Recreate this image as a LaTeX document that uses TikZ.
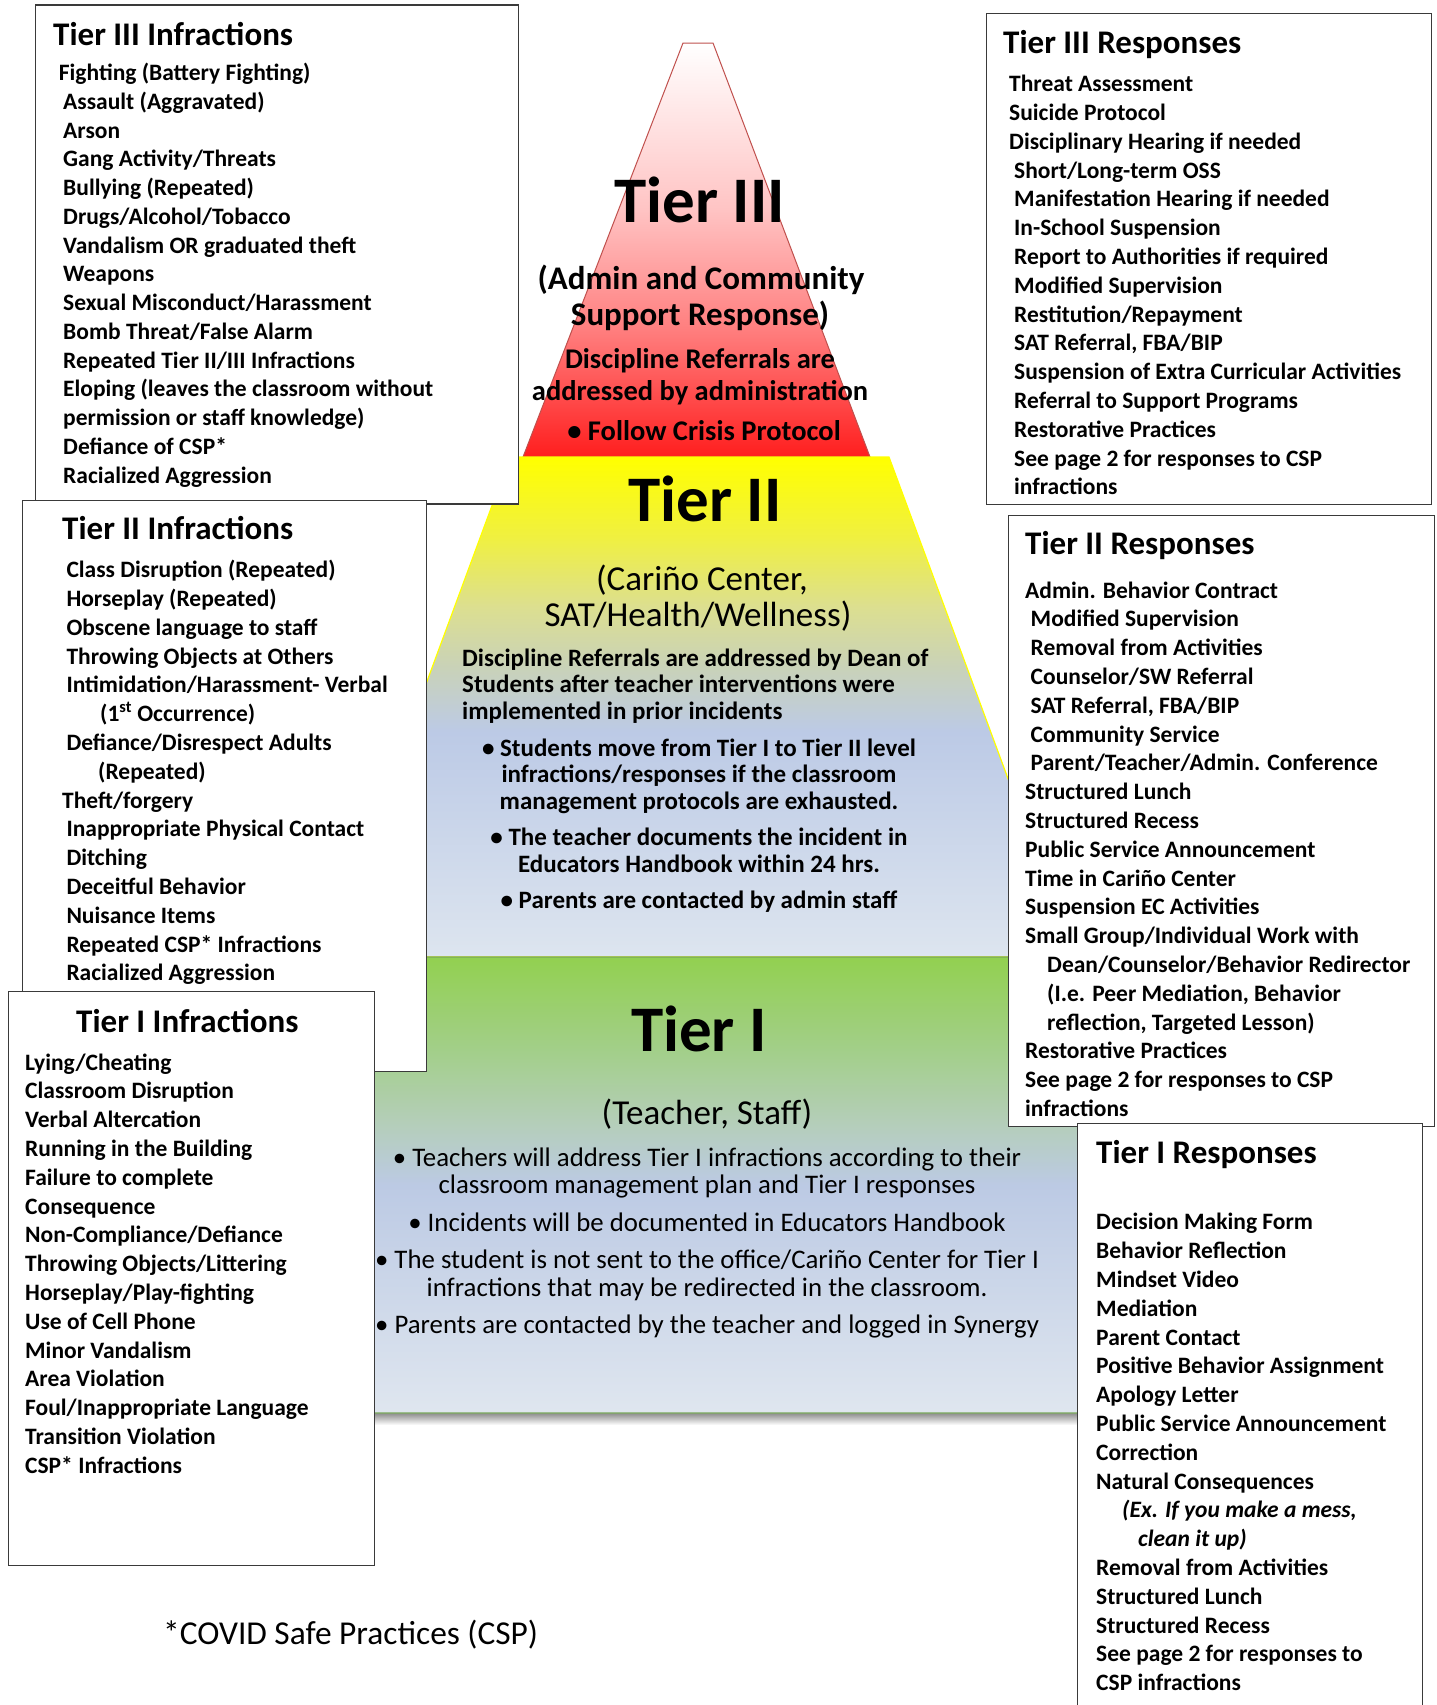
\documentclass[tikz,border=0pt]{standalone}
\usepackage{fontspec}
\setmainfont{Carlito}
\definecolor{boxline}{HTML}{3A3A3A}
\definecolor{tA}{HTML}{FFFFFF}
\definecolor{tB}{HTML}{FFC4C4}
\definecolor{tC}{HTML}{FF7C7C}
\definecolor{tD}{HTML}{FF1E1E}
\definecolor{tLine}{HTML}{C0504D}
\definecolor{uA}{HTML}{FFFF00}
\definecolor{uB}{HTML}{F0F040}
\definecolor{uC}{HTML}{DCDF90}
\definecolor{uD}{HTML}{C9D2B8}
\definecolor{uE}{HTML}{BCCAE6}
\definecolor{uF}{HTML}{DDE5EF}
\definecolor{vA}{HTML}{92D050}
\definecolor{vB}{HTML}{A2CF88}
\definecolor{vC}{HTML}{B4CEB8}
\definecolor{vD}{HTML}{BCCAE4}
\definecolor{vE}{HTML}{DFE6EF}
\definecolor{vLine}{HTML}{79A85A}
\pgfdeclareverticalshading{tierthree}{100bp}{color(0bp)=(tD); color(25bp)=(tD); color(40bp)=(tC); color(55bp)=(tB); color(75bp)=(tA); color(100bp)=(tA)}
\pgfdeclareverticalshading{tiertwo}{100bp}{color(0bp)=(uF); color(25bp)=(uF); color(47.5bp)=(uE); color(54bp)=(uD); color(60bp)=(uC); color(67bp)=(uB); color(75bp)=(uA); color(100bp)=(uA)}
\pgfdeclareverticalshading{tierone}{100bp}{color(0bp)=(vE); color(25bp)=(vE); color(50bp)=(vD); color(57bp)=(vC); color(65bp)=(vB); color(75bp)=(vA); color(100bp)=(vA)}
\begin{document}
\begin{tikzpicture}[x=1pt,y=-1pt,
  infobox/.style={draw=boxline, line width=1.4pt, fill=white, inner sep=0pt, anchor=north west},
  item/.style={font=\fontsize{23.5}{28}\selectfont\bfseries, anchor=base west, inner sep=0pt},
  boxtitle/.style={font=\fontsize{33}{38}\selectfont\bfseries, anchor=base west, inner sep=0pt},
  bigtier/.style={font=\fontsize{65}{70}\selectfont\bfseries, anchor=base, inner sep=0pt},
  subbold/.style={font=\fontsize{33}{38}\selectfont\bfseries, anchor=base, inner sep=0pt},
  subreg/.style={font=\fontsize{35}{40}\selectfont, anchor=base, inner sep=0pt},
  tthreebody/.style={font=\fontsize{28.5}{32}\selectfont\bfseries, anchor=base, inner sep=0pt},
  ttwobody/.style={font=\fontsize{25}{28}\selectfont\bfseries, anchor=base, inner sep=0pt},
  tonebody/.style={font=\fontsize{26.8}{30}\selectfont, anchor=base, inner sep=0pt}]
\useasboundingbox (0,0) rectangle (1436,1705);
\clip (0,0) rectangle (1436,1705);
\fill[white] (0,0) rectangle (1436,1705);

% ---- pyramid ----
\shadedraw[shading=tierthree, draw=tLine, line width=1pt]
  (683,43) -- (713,43) -- (870,457) -- (523,457) -- cycle;
\shadedraw[shading=tiertwo, draw=uA, line width=1.2pt]
  (510,457) -- (889,457) -- (1074,957) -- (325,957) -- cycle;
\shade[top color=black!45, bottom color=white] (150,1413) rectangle (1245,1425);
\shadedraw[shading=tierone, draw=vLine, line width=1.2pt]
  (320,957) -- (1075,957) -- (1245,1413) -- (150,1413) -- cycle;

% ---- boxes ----
\node[infobox, minimum width=483pt, minimum height=499pt] (box1) at (35,4.3) {};
\node[infobox, minimum width=445pt, minimum height=491pt] (box2) at (986,13) {};
\node[infobox, minimum width=404pt, minimum height=571pt] (box3) at (22,500) {};
\node[infobox, minimum width=426pt, minimum height=611pt] (box4) at (1008,515) {};
\node[infobox, minimum width=366pt, minimum height=574pt] (box5) at (8,991) {};
\node[infobox, minimum width=345pt, minimum height=620pt] (box6) at (1077,1123) {};

% ---- box texts ----
\node[boxtitle] (h1) at (53,45.1) {Tier III Infractions};
\foreach \xx/\t [count=\i from 0] in {58.7/{Fighting (Battery Fighting)}, 63/{Assault (Aggravated)}, 63/Arson, 63/{Gang Activity/Threats}, 63/{Bullying (Repeated)}, 63/{Drugs/Alcohol/Tobacco}, 63/{Vandalism OR graduated theft}, 63/Weapons, 63/{Sexual Misconduct/Harassment}, 63/{Bomb Threat/False Alarm}, 63/{Repeated Tier II/III Infractions}, 63/{Eloping (leaves the classroom without}, 63/{permission or staff knowledge)}, 63/{Defiance of CSP*}, 63/{Racialized Aggression}}
  {\node[item] (ia\i) at (\xx, 80.8+28.73*\i) {\t};}

\node[boxtitle] (h2) at (1003,53.8) {Tier III Responses};
\foreach \xx/\t [count=\i from 0] in {1009/{Threat Assessment}, 1009/{Suicide Protocol}, 1009/{Disciplinary Hearing if needed}, 1014/{Short/Long-term OSS}, 1014/{Manifestation Hearing if needed}, 1014/{In-School Suspension}, 1014/{Report to Authorities if required}, 1014/{Modified Supervision}, 1014/{Restitution/Repayment}, 1014/{SAT Referral, FBA/BIP}, 1014/{Suspension of Extra Curricular Activities}, 1014/{Referral to Support Programs}, 1014/{Restorative Practices}, 1014/{See page 2 for responses to CSP}, 1014/infractions}
  {\node[item] (ib\i) at (\xx, 91.7+28.8*\i) {\t};}

\node[boxtitle] (h3) at (62,539.7) {Tier II Infractions};
\foreach \xx/\t [count=\i from 0] in {66.3/{Class Disruption (Repeated)}, 66.3/{Horseplay (Repeated)}, 66.3/{Obscene language to staff}, 66.3/{Throwing Objects at Others}, 66.3/{Intimidation/Harassment- Verbal}, 100/{(1\textsuperscript{st} Occurrence)}, 66.3/{Defiance/Disrespect Adults}, 98/{(Repeated)}, 62/{Theft/forgery}, 66.3/{Inappropriate Physical Contact}, 66.3/Ditching, 66.3/{Deceitful Behavior}, 66.3/{Nuisance Items}, 66.3/{Repeated CSP* Infractions}, 66.3/{Racialized Aggression}}
  {\node[item] (ic\i) at (\xx, 577.6+28.8*\i) {\t};}

\node[boxtitle] (h4) at (1025,554.9) {Tier II Responses};
\foreach \xx/\t [count=\i from 0] in {1025/{Admin. Behavior Contract}, 1030.5/{Modified Supervision}, 1030.5/{Removal from Activities}, 1030.5/{Counselor/SW Referral}, 1030.5/{SAT Referral, FBA/BIP}, 1030.5/{Community Service}, 1030.5/{Parent/Teacher/Admin. Conference}, 1025/{Structured Lunch}, 1025/{Structured Recess}, 1025/{Public Service Announcement}, 1025/{Time in Cariño Center}, 1025/{Suspension EC Activities}, 1025/{Small Group/Individual Work with}, 1047/{Dean/Counselor/Behavior Redirector}, 1047/{(I.e. Peer Mediation, Behavior}, 1047/{reflection, Targeted Lesson)}, 1025/{Restorative Practices}, 1025/{See page 2 for responses to CSP}, 1025/infractions}
  {\node[item] (id\i) at (\xx, 598+28.8*\i) {\t};}

\node[boxtitle] (h5) at (76,1032) {Tier I Infractions};
\foreach \t [count=\i from 0] in {{Lying/Cheating}, {Classroom Disruption}, {Verbal Altercation}, {Running in the Building}, {Failure to complete}, Consequence, {Non-Compliance/Defiance}, {Throwing Objects/Littering}, {Horseplay/Play-fighting}, {Use of Cell Phone}, {Minor Vandalism}, {Area Violation}, {Foul/Inappropriate Language}, {Transition Violation}, {CSP* Infractions}}
  {\node[item] (ie\i) at (25, 1070+28.8*\i) {\t};}

\node[boxtitle] (h6) at (1096,1163.7) {Tier I Responses};
\foreach \xx/\t [count=\i from 0] in {1096/{Decision Making Form}, 1096/{Behavior Reflection}, 1096/{Mindset Video}, 1096/Mediation, 1096/{Parent Contact}, 1096/{Positive Behavior Assignment}, 1096/{Apology Letter}, 1096/{Public Service Announcement}, 1096/Correction, 1096/{Natural Consequences}, 1122/{\itshape (Ex. If you make a mess,}, 1138/{\itshape clean it up)}, 1096/{Removal from Activities}, 1096/{Structured Lunch}, 1096/{Structured Recess}, 1096/{See page 2 for responses to}, 1096/{CSP infractions}}
  {\node[item] (ig\i) at (\xx, 1229.8+28.8*\i) {\t};}

% ---- pyramid texts ----
\node[bigtier] (p3) at (699.5,222) {Tier III};
\node[subbold] (p3a) at (701,289.5) {(Admin and Community};
\node[subbold] (p3b) at (700,325.5) {Support Response)};
\node[tthreebody] (p3c) at (700,368) {Discipline Referrals are};
\node[tthreebody] (p3d) at (700,400.5) {addressed by administration};
\node[tthreebody] (p3e) at (704,440.5) {• Follow Crisis Protocol};

\node[bigtier] (p2) at (705,521) {Tier II};
\node[subreg] (p2a) at (702,590) {(Cariño Center,};
\node[subreg] (p2b) at (698,626) {SAT/Health/Wellness)};
\foreach \yy/\t [count=\i] in {666/{Discipline Referrals are addressed by Dean of}, 692/{Students after teacher interventions were}, 719/{implemented in prior incidents}}
  {\node[ttwobody, anchor=base west] (pq\i) at (462,\yy) {\t};}
\foreach \yy/\t [count=\i] in {756/{• Students move from Tier I to Tier II level}, 782/{infractions/responses if the classroom}, 809/{management protocols are exhausted.}, 845/{• The teacher documents the incident in}, 872/{Educators Handbook within 24 hrs.}, 908/{• Parents are contacted by admin staff}}
  {\node[ttwobody] (pr\i) at (699,\yy) {\t};}

\node[bigtier] (p1) at (699,1051.5) {Tier I};
\node[subreg] (p1a) at (707,1124) {(Teacher, Staff)};
\foreach \yy/\t [count=\i] in {1166/{• Teachers will address Tier I infractions according to their}, 1193/{classroom management plan and Tier I responses}, 1231/{• Incidents will be documented in Educators Handbook}, 1268/{• The student is not sent to the office/Cariño Center for Tier I}, 1296/{infractions that may be redirected in the classroom.}, 1333/{• Parents are contacted by the teacher and logged in Synergy}}
  {\node[tonebody] (ps\i) at (707,\yy) {\t};}

\node[subreg, font=\fontsize{33.4}{38}\selectfont, anchor=base west] (foot) at (163,1644) {*COVID Safe Practices (CSP)};
\end{tikzpicture}
\end{document}
